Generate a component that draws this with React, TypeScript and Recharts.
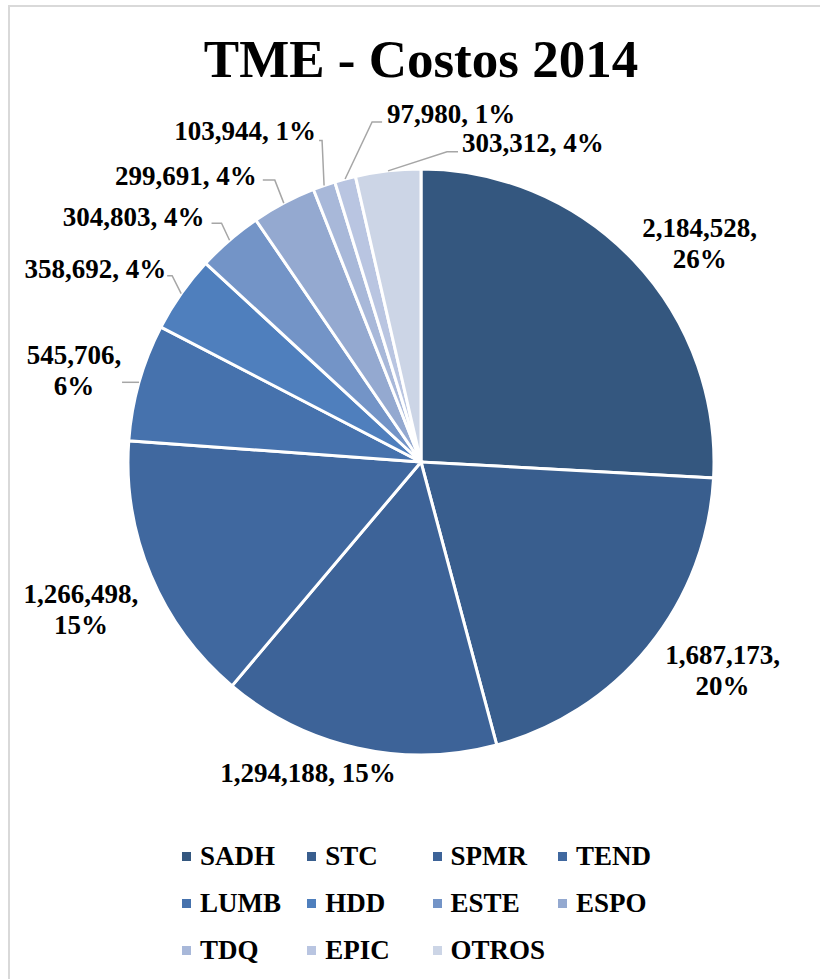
import React from 'react';
import { PieChart, Pie, Cell, Legend } from 'recharts';

const categories = ['SADH', 'STC', 'SPMR', 'TEND', 'LUMB', 'HDD', 'ESTE', 'ESPO', 'TDQ', 'EPIC', 'OTROS'];
const costs = [2184528, 1687173, 1294188, 1266498, 545706, 358692, 304803, 299691, 103944, 97980, 303312];
const colors = ['#34577f', '#395e8e', '#3d6398', '#40689f', '#4672ad', '#4f7fbd', '#7394c7', '#94a9d0', '#a8b8d9', '#b9c5e1', '#ccd5e6'];

const data = categories.map((name, i) => ({ name, value: costs[i] }));

const FONT = '"Liberation Serif", "Times New Roman", serif';
const RADIAN = Math.PI / 180;

// label placement, offsets from the slice's outer edge midpoint
type LabelPos = { tx: number; ty: number; anchor: 'start' | 'middle' | 'end'; two?: boolean; leader?: [number, number, number] };
const labelPos: LabelPos[] = [
  { tx: 66, ty: -17, anchor: 'middle', two: true },
  { tx: 74, ty: 24, anchor: 'middle', two: true },
  { tx: -49, ty: 25, anchor: 'middle' },
  { tx: -70, ty: 34, anchor: 'middle', two: true },
  { tx: -65, ty: -12, anchor: 'middle', two: true, leader: [-2, 0, -17] },
  { tx: -15, ty: -25, anchor: 'end', leader: [-9, -18, -14] },
  { tx: -25, ty: -23, anchor: 'end', leader: [-8, -17, -18] },
  { tx: -27, ty: -27, anchor: 'end', leader: [-9, -23, -21] },
  { tx: -8, ty: -54, anchor: 'end', leader: [-2, -45, -5] },
  { tx: 42, ty: -65, anchor: 'start', leader: [27, -57, 37] },
  { tx: 74, ty: -28, anchor: 'start', leader: [59, -19, 70] },
];

const renderLabel = (props: any) => {
  const { cx, cy, midAngle, outerRadius, index, value, percent } = props;
  const a = -midAngle * RADIAN;
  const ex = cx + outerRadius * Math.cos(a);
  const ey = cy + outerRadius * Math.sin(a);
  const p = labelPos[index];
  const v = Number(value).toLocaleString('en-US') + ',';
  const pct = Math.round(percent * 100) + '%';
  const x = ex + p.tx;
  const y = ey + p.ty;
  const textProps = {
    x,
    textAnchor: p.anchor,
    dominantBaseline: 'central' as const,
    fontFamily: FONT,
    fontWeight: 'bold',
    fontSize: 27,
    fill: '#000',
  };
  return (
    <g key={'lbl' + index}>
      {p.leader && (
        <polyline
          points={`${ex},${ey} ${ex + p.leader[0]},${ey + p.leader[1]} ${ex + p.leader[2]},${ey + p.leader[1]}`}
          fill="none"
          stroke="#a6a6a6"
          strokeWidth={1.5}
        />
      )}
      {p.two ? (
        <>
          <text {...textProps} y={y - 15.5}>{v}</text>
          <text {...textProps} y={y + 15.5}>{pct}</text>
        </>
      ) : (
        <text {...textProps} y={y}>{v + ' ' + pct}</text>
      )}
    </g>
  );
};

// legend keeps the data order (four per row)
const renderLegend = () => (
  <div style={{ position: 'relative', width: 820, height: 140 }}>
    {categories.map((name, i) => (
      <div
        key={name}
        style={{
          position: 'absolute',
          left: 182 + (i % 4) * 125.3,
          top: Math.floor(i / 4) * 47,
          height: 30,
          display: 'flex',
          alignItems: 'center',
          fontFamily: FONT,
          fontWeight: 'bold',
          fontSize: 27,
          color: '#000',
          whiteSpace: 'nowrap',
        }}
      >
        <span style={{ display: 'inline-block', width: 9, height: 9, background: colors[i], marginRight: 9 }} />
        {name}
      </div>
    ))}
  </div>
);

export default function App() {
  return (
    <div style={{ position: 'absolute', left: 0, top: 0, width: 820, height: 979, background: '#fff', overflow: 'hidden' }}>
      <div
        style={{
          position: 'absolute',
          left: 8,
          top: 5,
          width: 812,
          height: 974,
          borderTop: '2px solid #d9d9d9',
          borderLeft: '2px solid #d9d9d9',
          boxSizing: 'border-box',
        }}
      />
      <svg width={820} height={100} style={{ position: 'absolute', left: 0, top: 0 }}>
        <text x={421} y={77} textAnchor="middle" fontFamily={FONT} fontWeight="bold" fontSize={53} fill="#000">
          TME - Costos 2014
        </text>
      </svg>
      <div style={{ position: 'absolute', left: 0, top: 0 }}>
        <PieChart width={820} height={979} margin={{ top: 0, right: 0, bottom: 0, left: 0 }}>
          <Pie
            data={data}
            dataKey="value"
            nameKey="name"
            cx={421}
            cy={462}
            outerRadius={293}
            startAngle={90}
            endAngle={-270}
            stroke="#fff"
            strokeWidth={3}
            label={renderLabel}
            labelLine={false}
            isAnimationActive={false}
          >
            {data.map((d, i) => (
              <Cell key={d.name} fill={colors[i]} />
            ))}
          </Pie>
          <Legend
            content={renderLegend}
            wrapperStyle={{ position: 'absolute', left: 0, top: 841, width: 820 }}
          />
        </PieChart>
      </div>
    </div>
  );
}
